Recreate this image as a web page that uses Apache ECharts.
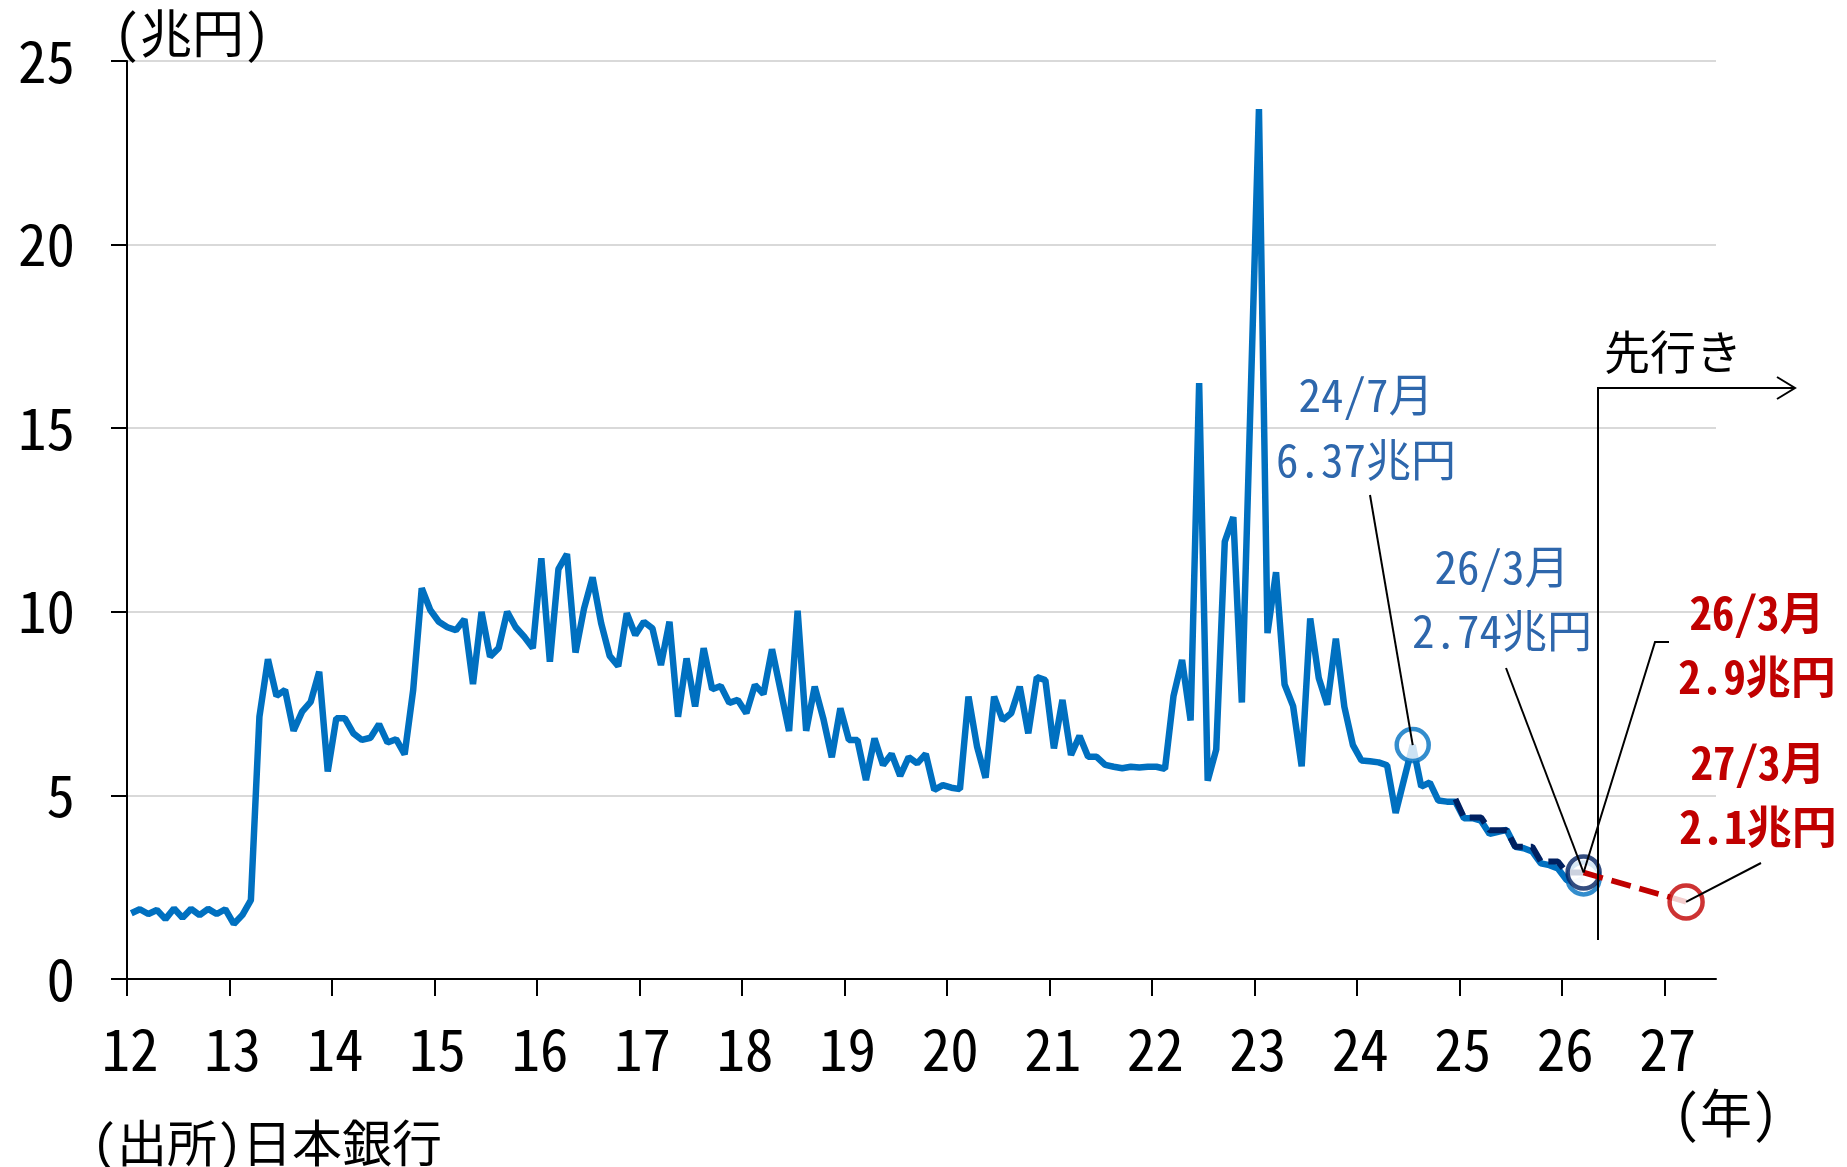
<!DOCTYPE html>
<html>
<head>
<meta charset="utf-8">
<script src="https://cdn.jsdelivr.net/npm/echarts@6/dist/echarts.min.js"></script>
<style>
  html, body { margin: 0; padding: 0; background: #fff; }
  #chart { width: 1847px; height: 1167px; }
</style>
</head>
<body>
<div id="chart"></div>
<script>
// 月次の国債買入額（兆円）、2012年1月から。x は「12年1月からの月数」
var yearLabels = ['12','13','14','15','16','17','18','19','20','21','22','23','24','25','26','27'];

var purchases = [
  1.79, 1.90, 1.77, 1.88, 1.63, 1.92, 1.67, 1.91, 1.74, 1.91, 1.77, 1.90,   // 12
  1.50, 1.74, 2.15, 7.14, 8.71, 7.71, 7.87, 6.76, 7.28, 7.55, 8.37, 5.65,   // 13
  7.10, 7.10, 6.69, 6.51, 6.57, 6.94, 6.44, 6.53, 6.12, 7.87, 10.64, 10.05, // 14
  9.73, 9.58, 9.50, 9.80, 8.03, 10.00, 8.78, 9.01, 10.00, 9.58, 9.32, 9.01, // 15
  11.46, 8.64, 11.16, 11.57, 8.89, 10.09, 10.94, 9.69, 8.80, 8.52, 9.96, 9.37, // 16
  9.73, 9.55, 8.55, 9.73, 7.14, 8.73, 7.42, 9.01, 7.89, 7.98, 7.52, 7.60,   // 17
  7.24, 8.01, 7.76, 8.98, 7.87, 6.75, 10.03, 6.76, 7.96, 7.10, 6.04, 7.37,  // 18
  6.51, 6.51, 5.42, 6.55, 5.83, 6.13, 5.53, 6.04, 5.87, 6.13, 5.15, 5.28,   // 19
  5.21, 5.17, 7.69, 6.33, 5.48, 7.69, 7.05, 7.24, 7.96, 6.69, 8.22, 8.14,   // 20
  6.28, 7.60, 6.10, 6.62, 6.05, 6.05, 5.83, 5.78, 5.74, 5.78, 5.76, 5.78,   // 21
  5.78, 5.72, 7.71, 8.69, 7.04, 16.23, 5.40, 6.25, 11.91, 12.58, 7.53, 15.6, // 22
  23.69, 9.42, 11.08, 8.02, 7.43, 5.79, 9.82, 8.20, 7.47, 9.27, 7.41, 6.37, // 23
  5.95, 5.93, 5.90, 5.82, 4.52, 5.45, 6.37, 5.24, 5.35, 4.86, 4.83, 4.83,   // 24
  4.38, 4.38, 4.31, 3.95, 4.01, 4.06, 3.60, 3.56, 3.47, 3.15, 3.10, 3.01,   // 25
  2.70, 2.62, 2.74                                                          // 26
];

// 減額計画（24年12月〜26年3月）
var planStart = 155;
var plan = [4.9, 4.4, 4.4, 4.4, 4.05, 4.05, 4.05, 3.6, 3.6, 3.6, 3.2, 3.2, 3.2, 2.9, 2.9, 2.9];

// 先行き（26年3月 → 27年3月）
var outlookMonths = [170, 182];
var outlookValues = [2.9, 2.1];

// 丸で示す点
var markActual = [[150, 6.37], [170, 2.74]];
var markPlan = [[170, 2.9]];
var markOutlook = [[182, 2.1]];

var BLUE = '#0070C0', NAVY = '#002060', RED = '#C00000', TXT_BLUE = '#2E67AC';
var MONO = '"Noto Sans Mono CJK JP", "Noto Sans CJK JP", sans-serif';
var CJK = '"Noto Sans CJK JP", sans-serif';

function xy(m, v) { return [m + 0.5, v]; }

var chartDom = document.getElementById('chart');
var myChart = echarts.init(chartDom);

var yearTicks = yearLabels.map(function (_, i) { return i * 12; });

var option = {
  animation: false,
  grid: { left: 127, right: 131, top: 61, bottom: 188 },
  xAxis: {
    type: 'value',
    min: 0,
    max: 186,
    interval: 12,
    splitLine: { show: false },
    axisLine: { lineStyle: { color: '#000', width: 2 } },
    axisTick: { show: true, length: 17, customValues: yearTicks, lineStyle: { color: '#000', width: 2 } },
    axisLabel: {
      customValues: yearTicks,
      margin: 42,
      fontSize: 57,
      fontFamily: MONO,
      color: '#000',
      padding: [0, 0, 0, 6],
      formatter: function (v) { return yearLabels[Math.round(v / 12)]; }
    }
  },
  yAxis: {
    type: 'value',
    min: 0,
    max: 25,
    interval: 5,
    axisLine: { show: true, lineStyle: { color: '#000', width: 2 } },
    axisTick: { show: true, length: 16, lineStyle: { color: '#000', width: 2 } },
    splitLine: { lineStyle: { color: '#d9d9d9', width: 2 } },
    axisLabel: { margin: 52, fontSize: 57, fontFamily: MONO, color: '#000' }
  },
  series: [
    {
      type: 'line', showSymbol: false, z: 2,
      lineStyle: { color: BLUE, width: 6.5 },
      data: purchases.map(function (v, i) { return xy(i, v); })
    },
    {
      type: 'scatter', z: 3, symbol: 'circle', symbolSize: 32,
      itemStyle: { color: '#fff', borderColor: BLUE, borderWidth: 4.5 },
      data: markActual.slice(1).map(function (p) { return xy(p[0], p[1]); })
    },
    {
      type: 'line', showSymbol: false, z: 4,
      lineStyle: { color: NAVY, width: 6, type: [18, 8] },
      data: plan.map(function (v, i) { return xy(planStart + i, v); })
    },
    {
      type: 'scatter', z: 5, symbol: 'circle', symbolSize: 32,
      itemStyle: { color: '#fff', borderColor: NAVY, borderWidth: 4.5 },
      data: markPlan.map(function (p) { return xy(p[0], p[1]); })
    },
    {
      type: 'line', showSymbol: false, z: 6,
      lineStyle: { color: RED, width: 5.5, type: [20, 9] },
      data: outlookValues.map(function (v, i) { return xy(outlookMonths[i], v); })
    },
    {
      type: 'scatter', z: 7, symbol: 'circle', symbolSize: 33,
      itemStyle: { color: '#fff', borderColor: RED, borderWidth: 4.5 },
      data: markOutlook.map(function (p) { return xy(p[0], p[1]); })
    },
    {
      type: 'scatter', z: 7, symbol: 'circle', symbolSize: 32,
      itemStyle: { color: '#fff', borderColor: BLUE, borderWidth: 4.5 },
      data: markActual.slice(0, 1).map(function (p) { return xy(p[0], p[1]); })
    }
  ]
};

myChart.setOption(option);

// 注記（引き出し線の円側は軸から求める）
function px(p) { return myChart.convertToPixel({ gridIndex: 0 }, xy(p[0], p[1])); }
var c247 = px(markActual[0]);
var c263 = px(markPlan[0]);
var c273 = px(markOutlook[0]);

function label(x, y, text, color, size, weight, lh, font, align) {
  return {
    type: 'text', z: 100,
    style: {
      x: x, y: y, text: text, fill: color,
      font: (weight || 'normal') + ' ' + size + 'px ' + (font || MONO),
      align: align || 'center', verticalAlign: 'middle', lineHeight: lh || size
    }
  };
}
function line(points, width) {
  return {
    type: 'polyline', z: 100,
    shape: { points: points },
    style: { stroke: '#000', lineWidth: width || 2, fill: null }
  };
}

myChart.setOption({
  graphic: [
    label(192, 33, '(兆円)', '#000', 52, 'normal', 52),
    label(1726, 1113, '(年)', '#000', 52, 'normal', 52),
    label(92, 1143, '(出所)日本銀行', '#000', 50, 'normal', 50, MONO, 'left'),
    label(1673, 352, '先行き', '#000', 46, 'normal', 46, CJK),
    label(1366, 427, '24/7月\n6.37兆円', TXT_BLUE, 45, 'normal', 65),
    label(1502, 599, '26/3月\n2.74兆円', TXT_BLUE, 45, 'normal', 64),
    label(1757, 645, '26/3月\n2.9兆円', RED, 45, 'bold', 64),
    label(1758, 795, '27/3月\n2.1兆円', RED, 45, 'bold', 64),
    line([[1370, 495], c247]),
    line([[1506, 668], c263]),
    line([[1669, 642], [1655, 642], c263]),
    line([[1761, 863], c273]),
    line([[1598, 940], [1598, 388], [1795, 388]]),
    line([[1777, 377], [1795, 388], [1777, 399]])
  ]
});

window.addEventListener('resize', function () {
  myChart.resize();
});
</script>
</body>
</html>
